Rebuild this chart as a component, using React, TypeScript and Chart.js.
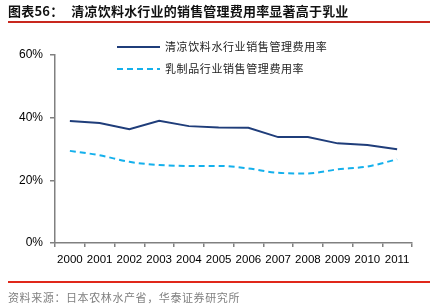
import React, { useEffect, useRef } from "react";
import { Chart, registerables } from "chart.js";

Chart.register(...registerables);

const years = ["2000", "2001", "2002", "2003", "2004", "2005", "2006", "2007", "2008", "2009", "2010", "2011"];
const softDrink = [38.9, 38.3, 36.3, 39.0, 37.3, 36.9, 36.8, 33.8, 33.8, 31.8, 31.3, 29.9];
const dairy = [29.4, 28.0, 25.9, 24.9, 24.6, 24.6, 23.8, 22.4, 22.2, 23.5, 24.4, 26.7];
const seriesNames = ["清凉饮料水行业销售管理费用率", "乳制品行业销售管理费用率"];
const yTicks = [0, 20, 40, 60];

const title = "清凉饮料水行业的销售管理费用率显著高于乳业";
const source = "资料来源：日本农林水产省，华泰证券研究所";

const C_DARK = "#1f3d7a";
const C_LIGHT = "#14b0ec";

const legendPlugin = {
  id: "customLegend",
  afterDraw(chart: any) {
    const ctx = chart.ctx;
    const ds = chart.data.datasets;
    ctx.save();
    ds.forEach((d: any, i: number) => {
      const y = 47 + i * 22;
      ctx.beginPath();
      ctx.strokeStyle = d.borderColor;
      ctx.lineWidth = 2;
      ctx.setLineDash(d.borderDash || []);
      ctx.moveTo(117, y);
      ctx.lineTo(160, y);
      ctx.stroke();
      ctx.setLineDash([]);
      ctx.fillStyle = "#222";
      ctx.font = "11px 'Noto Sans CJK SC'";
      (ctx as any).letterSpacing = "0.6px";
      ctx.textBaseline = "middle";
      ctx.textAlign = "left";
      ctx.fillText(d.label, 165, y);
    });
    ctx.restore();
  },
};

function ChartView() {
  const ref = useRef<HTMLCanvasElement>(null);
  useEffect(() => {
    if (!ref.current) return;
    const chart = new Chart(ref.current, {
      type: "line",
      data: {
        labels: years,
        datasets: [
          {
            label: seriesNames[0],
            data: softDrink,
            borderColor: C_DARK,
            backgroundColor: C_DARK,
            borderWidth: 2,
            pointRadius: 0,
            tension: 0,
          },
          {
            label: seriesNames[1],
            data: dairy,
            borderColor: C_LIGHT,
            backgroundColor: C_LIGHT,
            borderWidth: 2,
            borderDash: [6, 4],
            pointRadius: 0,
            cubicInterpolationMode: "monotone",
          },
        ],
      },
      options: {
        responsive: false,
        animation: false,
        layout: { padding: { left: 0, top: 55, right: 21, bottom: 33 } },
        plugins: { legend: { display: false }, tooltip: { enabled: false } },
        scales: {
          x: {
            type: "category",
            offset: true,
            grid: { offset: true, drawOnChartArea: false, drawTicks: true, tickLength: 4, color: "#808080", lineWidth: 1.5 },
            border: { color: "#808080", width: 1.5 },
            ticks: { color: "#000", font: { family: "'Liberation Sans', Arial", size: 11.5 }, padding: 6, maxRotation: 0, autoSkip: false },
            afterFit: (s: any) => { s.height = 30; },
          },
          y: {
            min: 0,
            max: 60,
            afterBuildTicks: (s: any) => { s.ticks = yTicks.map((v) => ({ value: v })); },
            grid: { drawOnChartArea: false, drawTicks: true, tickLength: 5, color: "#808080", lineWidth: 1.5 },
            border: { color: "#808080", width: 1.5 },
            ticks: { color: "#000", font: { family: "'Liberation Sans', Arial", size: 12 }, padding: 7, callback: (v: any) => v + "%" },
            afterFit: (s: any) => { s.width = 55; },
          },
        },
      },
      plugins: [legendPlugin],
    });
    return () => chart.destroy();
  }, []);
  return <canvas ref={ref} width={433} height={306} style={{ position: "absolute", left: 0, top: 0 }} />;
}

export default function App() {
  return (
    <div style={{ position: "fixed", left: 0, top: 0, width: 433, height: 306, background: "#fff", overflow: "hidden", fontFamily: "'Noto Sans CJK SC', sans-serif" }}>
      <ChartView />
      <div style={{ position: "absolute", left: 8, top: 2, fontSize: 13, fontWeight: 700, color: "#111", lineHeight: "18px", whiteSpace: "nowrap", letterSpacing: "0.2px" }}>
        <span>图表56：</span>
        <span style={{ marginLeft: 8 }}>{title}</span>
      </div>
      <div style={{ position: "absolute", left: 8, top: 21, width: 422, height: 1.5, background: "#c8281e" }} />
      <div style={{ position: "absolute", left: 8, top: 281, width: 422, height: 1.5, background: "#e0281a" }} />
      <div style={{ position: "absolute", left: 8, top: 289, fontSize: 11, color: "#808080", lineHeight: "16px", letterSpacing: "0.6px", whiteSpace: "nowrap" }}>
        {source}
      </div>
    </div>
  );
}
